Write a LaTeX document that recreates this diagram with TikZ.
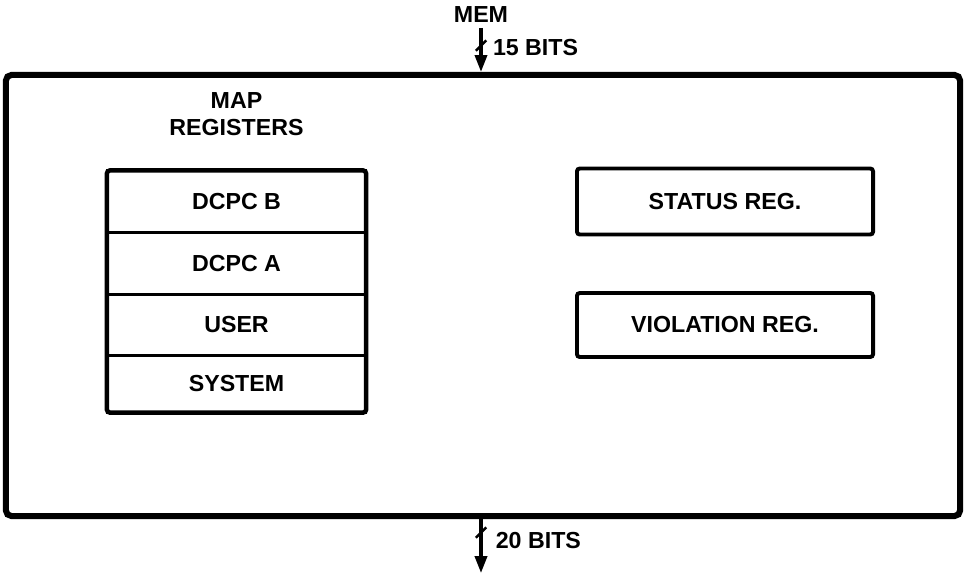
\documentclass[tikz,border=0pt]{standalone}
\usepackage{fontspec}
\setmainfont{Liberation Sans}
\usetikzlibrary{positioning,fit,arrows.meta,decorations.markings}
\tikzset{
	regrow/.style={draw, line width=2pt, minimum width=6.475cm, minimum height=1.55cm, inner sep=0pt, outer sep=0pt},
	regframe/.style={draw, line width=3.2pt, rounded corners=2pt, inner sep=0pt},
	regbox/.style={draw, line width=2.8pt, rounded corners=2pt, minimum width=7.4cm, inner sep=0pt},
	bustick/.style={postaction={decorate, decoration={markings,
		mark=at position #1 with {\draw[-, line width=1.8pt] (0.13cm,-0.13cm) -- (-0.13cm,0.13cm);}}}},
	busarrow/.style={line width=2.4pt, -{Triangle[length=0.42cm, width=0.3cm]}},
}
\begin{document}
\begin{tikzpicture}[x=0.025cm, y=-0.025cm, font=\fontsize{16.5}{19.5}\selectfont\bfseries]
\useasboundingbox (0,0) rectangle (964,573);
% whole unit
\node[draw, line width=4.3pt, rounded corners=4pt, minimum width=23.85cm, minimum height=11.025cm, inner sep=0pt] (unit) at (483,295.5) {};
% memory side
\node (mem) at (481,15) {MEM};
\draw[busarrow, bustick=0.4] (mem.south) -- (unit.north -| mem) node[pos=0.45, right=4pt] (inbits) {15 BITS};
\coordinate (out) at (481,573);
\draw[busarrow, bustick=0.25] (unit.south -| out) -- (out) node[pos=0.4, right=6pt] (outbits) {20 BITS};
% map registers
\node[regrow] (dcpcb) at (236.5,201.5) {DCPC B};
\node[regrow, below=0pt of dcpcb] (dcpca) {DCPC A};
\node[regrow, below=0pt of dcpca, minimum height=1.52cm] (user) {USER};
\node[regrow, below=0pt of user, minimum height=1.43cm] (system) {SYSTEM};
\node[regframe, fit=(dcpcb)(system)] (maps) {};
\node[above=0.8cm of maps.north, anchor=south, align=center, inner sep=0pt] (maplabel) {MAP\\REGISTERS};
% status and violation
\node[regbox, minimum height=1.65cm] (status) at (725,201.5) {STATUS REG.};
\node[regbox, minimum height=1.6cm] (viol) at (725,325) {VIOLATION REG.};
\end{tikzpicture}
\end{document}
